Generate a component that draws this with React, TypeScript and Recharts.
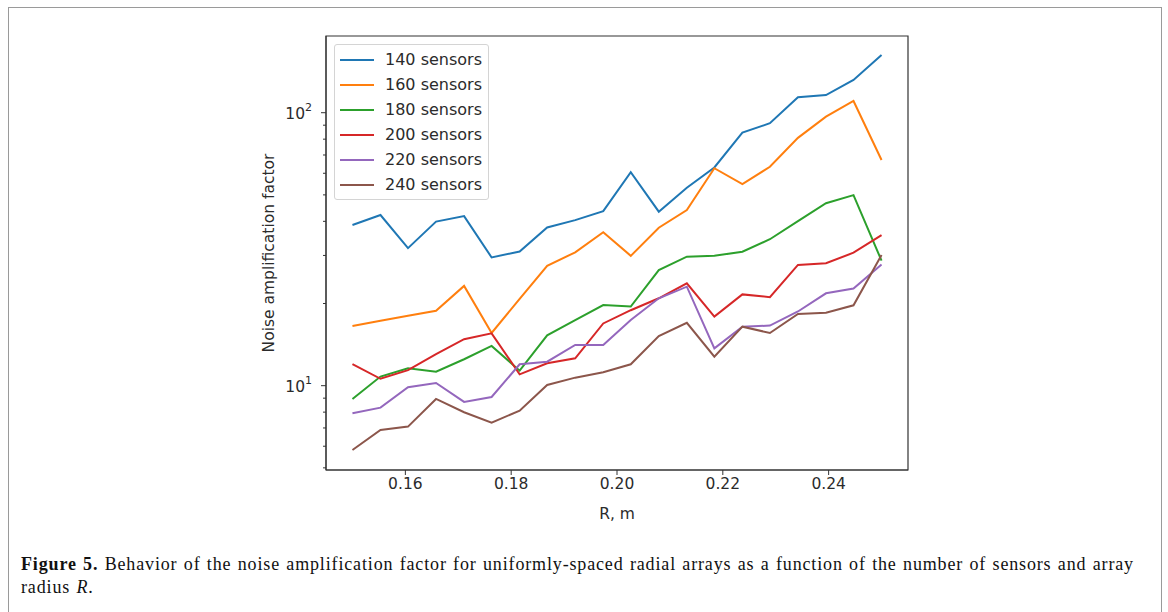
import React from "react";
import {
  LineChart,
  Line,
  XAxis,
  YAxis,
  Legend,
  ReferenceArea,
} from "recharts";

// radius values (20 points between 0.15 and 0.25 m)
const radius = [
  0.15, 0.1553, 0.1605, 0.1658, 0.1711, 0.1763, 0.1816, 0.1868, 0.1921,
  0.1974, 0.2026, 0.2079, 0.2132, 0.2184, 0.2237, 0.2289, 0.2342, 0.2395,
  0.2447, 0.25,
];

const s140 = [
  38.8, 42.2, 31.9, 39.9, 41.8, 29.5, 31.0, 38.0, 40.4, 43.6, 60.5, 43.4,
  53.1, 63, 84.5, 91.5, 113.9, 116.1, 131.8, 162.7,
];
const s160 = [
  16.55, 17.3, 18.05, 18.8, 23.2, 15.6, 20.8, 27.5, 30.8, 36.5, 29.9, 37.9,
  44.0, 62.6, 54.8, 63.4, 80.9, 96.7, 110.4, 67.1,
];
const s180 = [
  8.94, 10.8, 11.58, 11.25, 12.5, 13.98, 11.35, 15.3, 17.4, 19.75, 19.5, 26.5,
  29.7, 29.9, 30.97, 34.4, 40.1, 46.6, 49.9, 28.7,
];
const s200 = [
  12.0, 10.6, 11.4, 13.06, 14.8, 15.55, 11.0, 12.08, 12.6, 16.9, 18.9, 20.9,
  23.7, 17.9, 21.6, 21.1, 27.7, 28.1, 30.7, 35.6,
];
const s220 = [
  7.92, 8.31, 9.87, 10.23, 8.72, 9.09, 11.98, 12.24, 14.1, 14.1, 17.4, 20.9,
  23.05, 13.7, 16.45, 16.6, 18.7, 21.8, 22.7, 27.8,
];
const s240 = [
  5.81, 6.88, 7.08, 8.94, 7.99, 7.32, 8.1, 10.06, 10.7, 11.2, 11.98, 15.2,
  17.0, 12.77, 16.45, 15.6, 18.3, 18.5, 19.7, 30.1,
];

const seriesNames = [
  "140 sensors",
  "160 sensors",
  "180 sensors",
  "200 sensors",
  "220 sensors",
  "240 sensors",
];
const seriesColors = [
  "#1f77b4",
  "#ff7f0e",
  "#2ca02c",
  "#d62728",
  "#9467bd",
  "#8c564b",
];

const xTicks = [0.16, 0.18, 0.2, 0.22, 0.24];
const yTicks = [5, 6, 7, 8, 9, 10, 20, 30, 40, 50, 60, 70, 80, 90, 100];
const yMajor = [10, 100];

const xDomain = [0.145, 0.255];
const yDomain = [4.91, 191];

const allSeries = [s140, s160, s180, s200, s220, s240];
const data = radius.map((r, i) => {
  const row: Record<string, number> = { r };
  allSeries.forEach((s, k) => {
    row[seriesNames[k]] = s[i];
  });
  return row;
});

const axisColor = "#333";
const textColor = "#2b2b2b";
const font = "'DejaVu Sans', sans-serif";

const LogTick = (props: any) => {
  const { x, y, payload } = props;
  const v = payload.value;
  const major = yMajor.includes(v);
  const len = major ? 5 : 3;
  return (
    <g>
      <line x1={x} x2={x - len} y1={y} y2={y} stroke={axisColor} strokeWidth={1} />
      {major && (
        <text
          x={x - 14}
          y={y + 6}
          textAnchor="end"
          fontFamily={font}
          fontSize={15.5}
          fill={textColor}
        >
          10
          <tspan dy={-8} fontSize={11}>
            {Math.round(Math.log10(v))}
          </tspan>
        </text>
      )}
    </g>
  );
};

const LegendBox = () => (
  <div
    style={{
      border: "1px solid #d4d4d4",
      borderRadius: 3,
      background: "#fff",
      padding: "2px 0",
      width: 155,
      boxSizing: "border-box",
    }}
  >
    {seriesNames.map((name, i) => (
      <div
        key={name}
        style={{ display: "flex", alignItems: "center", height: 25 }}
      >
        <span
          style={{
            display: "inline-block",
            width: 34,
            height: 2,
            background: seriesColors[i],
            marginLeft: 5,
            marginRight: 11,
          }}
        />
        <span style={{ fontFamily: font, fontSize: 16, color: textColor }}>
          {name}
        </span>
      </div>
    ))}
  </div>
);

export default function App() {
  return (
    <div
      style={{
        position: "absolute",
        left: 0,
        top: 0,
        width: 1168,
        height: 612,
        overflow: "hidden",
        background: "#fff",
      }}
    >
      <div
        style={{
          position: "absolute",
          left: 8,
          top: 7,
          width: 1152,
          height: 640,
          border: "1px solid #9a9a9a",
        }}
      />
      <div style={{ position: "absolute", left: 0, top: 0 }}>
        <LineChart
          width={1168}
          height={612}
          data={data}
          margin={{ top: 36, right: 260, bottom: 92, left: 266 }}
        >
          <XAxis
            dataKey="r"
            type="number"
            domain={xDomain}
            ticks={xTicks}
            allowDataOverflow
            height={50}
            tickSize={5}
            tickMargin={3}
            stroke={axisColor}
            tick={{ fill: textColor, fontSize: 15.5, fontFamily: font }}
            tickFormatter={(v: number) => v.toFixed(2)}
            label={{
              value: "R, m",
              position: "center",
              dy: 18,
              fill: textColor,
              fontSize: 15.5,
              fontFamily: font,
            }}
          />
          <YAxis
            scale="log"
            domain={yDomain}
            ticks={yTicks}
            interval={0}
            allowDataOverflow
            width={60}
            tickSize={0}
            tickMargin={0}
            stroke={axisColor}
            tick={<LogTick />}
            label={{
              value: "Noise amplification factor",
              angle: -90,
              position: "center",
              dx: -28,
              fill: textColor,
              fontSize: 15.5,
              fontFamily: font,
            }}
          />
          <ReferenceArea
            x1={xDomain[0]}
            x2={xDomain[1]}
            y1={yDomain[0]}
            y2={yDomain[1]}
            fill="none"
            stroke={axisColor}
            strokeWidth={1.2}
            ifOverflow="visible"
          />
          {seriesNames.map((name, i) => (
            <Line
              key={name}
              type="linear"
              dataKey={name}
              stroke={seriesColors[i]}
              strokeWidth={2}
              dot={false}
              isAnimationActive={false}
            />
          ))}
          <Legend
            layout="vertical"
            align="center"
            verticalAlign="middle"
            content={<LegendBox />}
            wrapperStyle={{ left: 334, top: 44, width: 157 }}
          />
        </LineChart>
      </div>
      <div
        style={{
          position: "absolute",
          left: 21,
          top: 553,
          fontFamily: "'Liberation Serif', serif",
          fontSize: 18,
          lineHeight: "23px",
          color: "#111",
          whiteSpace: "nowrap",
          letterSpacing: 0.85,
          wordSpacing: 1,
        }}
      >
        <div>
          <b>Figure 5.</b> Behavior of the noise amplification factor for
          uniformly-spaced radial arrays as a function of the number of sensors
          and array
        </div>
        <div>
          radius <i>R</i>.
        </div>
      </div>
    </div>
  );
}
